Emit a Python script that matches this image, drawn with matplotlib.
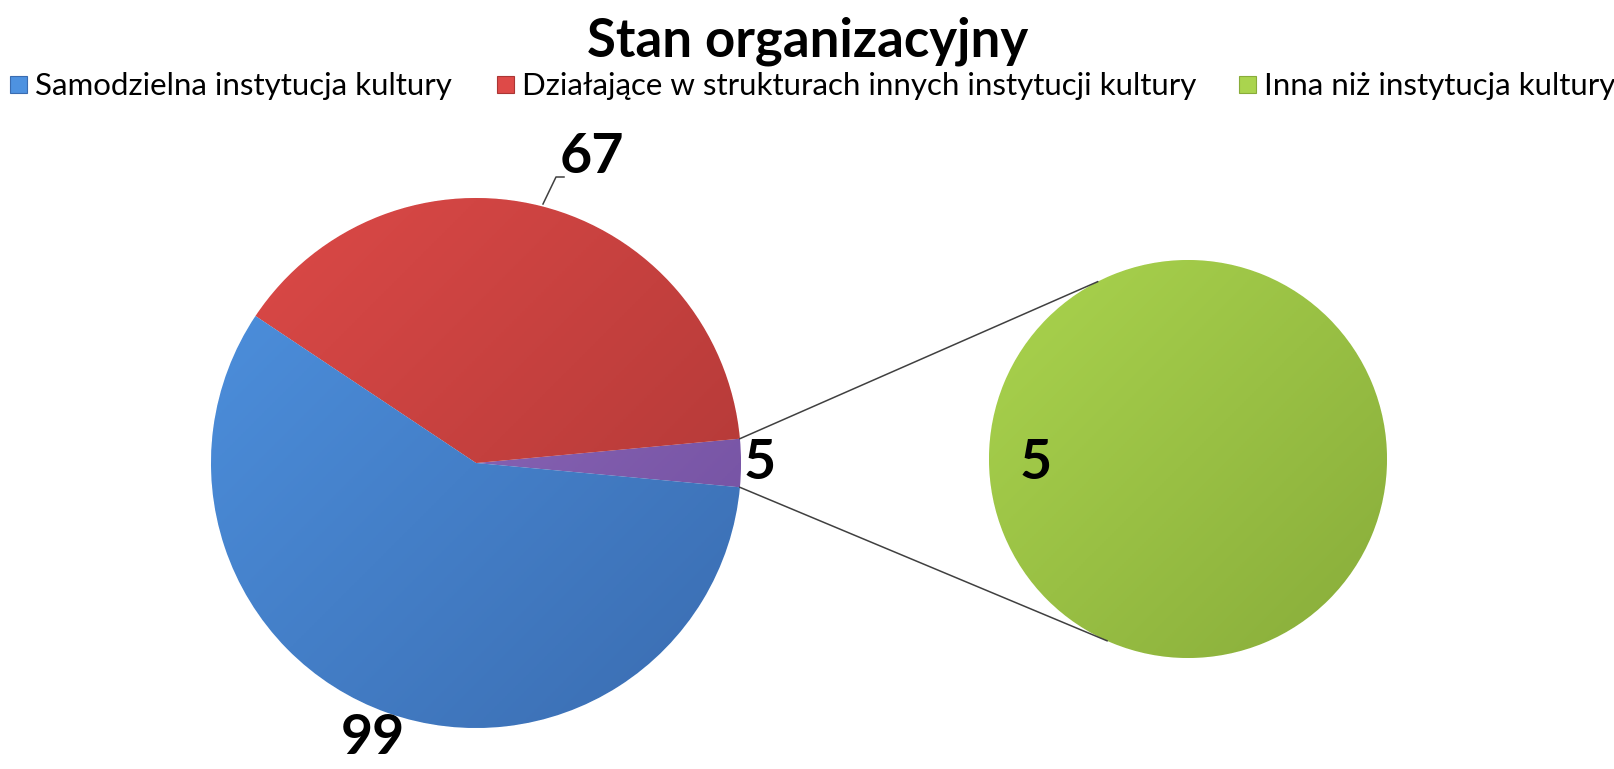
import numpy as np
import matplotlib
matplotlib.use('Agg')
import matplotlib.pyplot as plt
from matplotlib.colors import LinearSegmentedColormap
from matplotlib.patches import Rectangle

# data
title = 'Stan organizacyjny'
categories = ['Samodzielna instytucja kultury',
              'Działające w strukturach innych instytucji kultury',
              'Inna niż instytucja kultury']
values = [99, 67, 5]
main_pie = [5, 67, 99]          # "other" slice first, then red, then blue
second_pie = [5]

plt.rcParams['font.family'] = ['Lato', 'DejaVu Sans']

# colours (light, dark) for a simple gradient
blue = ('#4e92e0', '#3a6cb0')
red = ('#de4a48', '#aa3634')
purple = ('#9a74c6', '#6e4c9c')
green = ('#aad44e', '#88ac3a')

W, H = 1615, 769
fig = plt.figure(figsize=(W / 100, H / 100), dpi=100)
ax = fig.add_axes([0, 0, 1, 1])

c1, r1 = (476, 306), 265
c2, r2 = (1188, 310), 199

start = -360 * main_pie[0] / sum(main_pie) / 2
wedges, _ = ax.pie(main_pie, colors=[purple[0], red[0], blue[0]], startangle=start,
                   center=c1, radius=r1, frame=True,
                   wedgeprops=dict(edgecolor='white', linewidth=0.6))
wedges2, _ = ax.pie(second_pie, colors=[green[0]], startangle=90,
                    center=c2, radius=r2, frame=True,
                    wedgeprops=dict(edgecolor='white', linewidth=0.6))


def shade(w, cols, c, r):
    cm = LinearSegmentedColormap.from_list('g', [cols[0], cols[1]])
    yy, xx = np.mgrid[1:-1:200j, -1:1:200j]
    grad = (xx - yy) / 2
    im = ax.imshow(grad, cmap=cm, extent=(c[0] - r, c[0] + r, c[1] - r, c[1] + r),
                   vmin=-1, vmax=1, zorder=w.get_zorder())
    im.set_clip_path(w)


shade(wedges[0], purple, c1, r1)
shade(wedges[1], red, c1, r1)
shade(wedges[2], blue, c1, r1)
shade(wedges2[0], green, c2, r2)

# connector lines between the pies
a = np.deg2rad(360 * main_pie[0] / sum(main_pie) / 2)
p_top = (c1[0] + r1 * np.cos(a), c1[1] + r1 * np.sin(a))
p_bot = (c1[0] + r1 * np.cos(a), c1[1] - r1 * np.sin(a))
q_top = (c2[0] + r2 * np.cos(np.deg2rad(117)), c2[1] + r2 * np.sin(np.deg2rad(117)))
q_bot = (c2[0] + r2 * np.cos(np.deg2rad(246)), c2[1] + r2 * np.sin(np.deg2rad(246)))
ax.plot([p_top[0], q_top[0]], [p_top[1], q_top[1]], color='#404040', lw=1.1, zorder=5)
ax.plot([p_bot[0], q_bot[0]], [p_bot[1], q_bot[1]], color='#404040', lw=1.1, zorder=5)

# data labels
lab = dict(fontsize=40, fontweight='bold', color='black', zorder=6)
ax.text(592, 612, str(values[1]), ha='center', va='center', **lab)
ax.plot([543, 556, 564], [565, 592, 592], color='#404040', lw=1.1, zorder=5)
ax.text(373, 31, str(values[0]), ha='center', va='center', **lab)
ax.text(760, 306, str(main_pie[0]), ha='center', va='center', **lab)
ax.text(1036, 306, str(second_pie[0]), ha='center', va='center', **lab)

# title
ax.text(W / 2, 728, title, ha='center', va='center', fontsize=38, fontweight='bold')

# legend drawn by hand
leg_x = [10, 497, 1239]
leg_cols = [blue, red, green]
for x, name, cols in zip(leg_x, categories, leg_cols):
    ax.add_patch(Rectangle((x, 676), 17, 17, facecolor=cols[0], edgecolor=cols[1], lw=0.8))
    ax.text(x + 25, 683, name, ha='left', va='center', fontsize=22.5)

ax.set_xlim(0, W)
ax.set_ylim(0, H)
ax.set_aspect('equal')
ax.set_axis_off()

fig.savefig('out.png', dpi=100, facecolor='white')
